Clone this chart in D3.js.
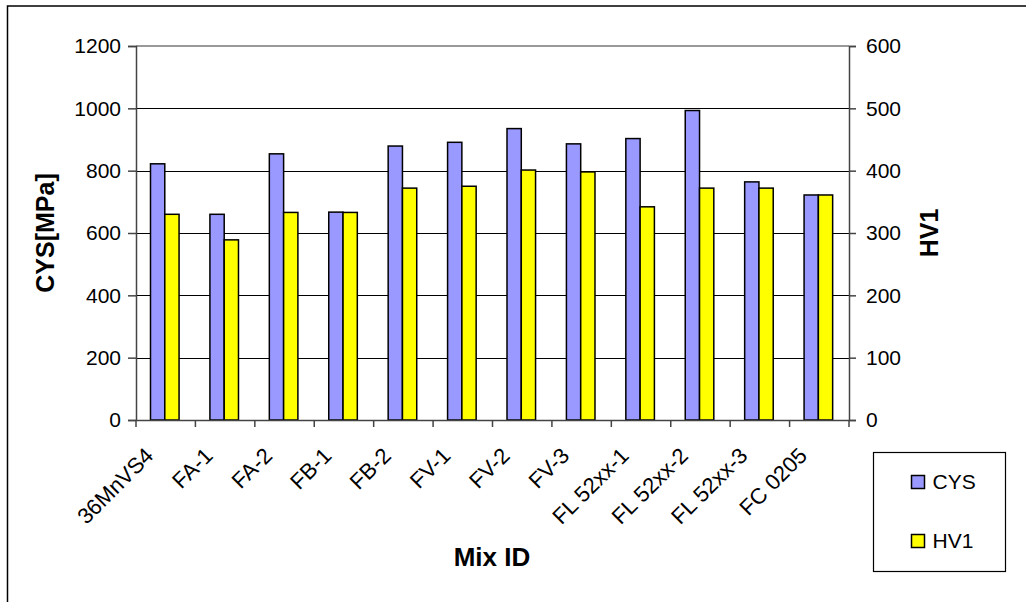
<!DOCTYPE html>
<html>
<head>
<meta charset="utf-8">
<script src="https://cdn.jsdelivr.net/npm/d3@7/dist/d3.min.js"></script>
<style>
  html, body { margin: 0; padding: 0; background: #fff; }
  svg { display: block; font-family: Arial, "Liberation Sans", sans-serif; }
</style>
</head>
<body>
<svg id="chart" width="1026" height="602"></svg>
<script>
// Mix designations along the category axis
const categories = ["36MnVS4", "FA-1", "FA-2", "FB-1", "FB-2", "FV-1", "FV-2", "FV-3",
                    "FL 52xx-1", "FL 52xx-2", "FL 52xx-3", "FC 0205"];
// Compressive yield strength, MPa (left axis)
const cysValues = [822, 660, 854, 667, 879, 891, 935, 886, 903, 993, 764, 722];
// Hardness HV1 (right axis)
const hv1Values = [330, 289, 333, 333, 372, 375, 401, 398, 342, 372, 372, 361];
const seriesNames = ["CYS", "HV1"];
const leftTicks = [0, 200, 400, 600, 800, 1000, 1200];
const rightTicks = [0, 100, 200, 300, 400, 500, 600];

const svg = d3.select("#chart");
const plot = { left: 136, right: 849, top: 46, bottom: 420 };
const colors = { CYS: "#9999ff", HV1: "#ffff00" };

// Outer chart frame
svg.append("rect")
  .attr("x", 7.5).attr("y", 6).attr("width", 1040).attr("height", 620)
  .attr("fill", "none").attr("stroke", "#000").attr("stroke-width", 1.5);

const x0 = d3.scaleBand().domain(categories).range([plot.left, plot.right]).padding(0);
const x1 = d3.scaleBand().domain(seriesNames).range([0, x0.bandwidth()])
  .paddingInner(0).paddingOuter(1.08).align(0.47);
const yL = d3.scaleLinear().domain([0, 1200]).range([plot.bottom, plot.top]);
const yR = d3.scaleLinear().domain([0, 600]).range([plot.bottom, plot.top]);

// Horizontal gridlines
svg.append("g").selectAll("line")
  .data(leftTicks.filter(t => t > 0 && t < 1200))
  .join("line")
  .attr("x1", plot.left).attr("x2", plot.right)
  .attr("y1", d => Math.round(yL(d)) + 0.5).attr("y2", d => Math.round(yL(d)) + 0.5)
  .attr("stroke", "#000").attr("stroke-width", 1);
// Plot area top edge
svg.append("line")
  .attr("x1", plot.left).attr("x2", plot.right)
  .attr("y1", yL(1200)).attr("y2", yL(1200))
  .attr("stroke", "#999").attr("stroke-width", 2);

// Bars
const rows = categories.map((c, i) => ({ cat: c, CYS: cysValues[i], HV1: hv1Values[i] }));
const groups = svg.append("g").selectAll("g")
  .data(rows).join("g")
  .attr("transform", d => `translate(${x0(d.cat)},0)`);
groups.selectAll("rect")
  .data(d => seriesNames.map(s => ({ s, v: d[s] })))
  .join("rect")
  .attr("x", d => x1(d.s))
  .attr("width", x1.bandwidth())
  .attr("y", d => d.s === "CYS" ? yL(d.v) : yR(d.v))
  .attr("height", d => plot.bottom - (d.s === "CYS" ? yL(d.v) : yR(d.v)))
  .attr("fill", d => colors[d.s])
  .attr("stroke", "#000").attr("stroke-width", 1.5);

// Left axis
const leftAxis = d3.axisLeft(yL).tickValues(leftTicks).tickFormat(d3.format("d"))
  .tickSize(8).tickPadding(7);
const gL = svg.append("g").attr("transform", `translate(${plot.left},0)`).call(leftAxis);
// Right axis
const rightAxis = d3.axisRight(yR).tickValues(rightTicks).tickFormat(d3.format("d"))
  .tickSize(7).tickPadding(10);
const gR = svg.append("g").attr("transform", `translate(${plot.right},0)`).call(rightAxis);
// Bottom axis
const bottomAxis = d3.axisBottom(x0).tickSize(0).tickFormat("");
const gB = svg.append("g").attr("transform", `translate(0,${plot.bottom})`).call(bottomAxis);
// Category boundary tick marks
svg.append("g").selectAll("line")
  .data(categories.map(c => x0(c)).concat([plot.right]))
  .join("line")
  .attr("x1", d => d).attr("x2", d => d)
  .attr("y1", plot.bottom).attr("y2", plot.bottom + 7)
  .attr("stroke", "#444").attr("stroke-width", 1.5);

[gL, gR, gB].forEach(g => {
  g.select(".domain").attr("stroke", "#444").attr("stroke-width", 1.5);
  g.selectAll(".tick line").attr("stroke", "#444").attr("stroke-width", 1.5);
  g.selectAll("text").attr("font-size", 21).attr("fill", "#000")
    .attr("font-family", "Arial, 'Liberation Sans', sans-serif");
});

// Rotated category labels
svg.append("g").selectAll("text")
  .data(categories).join("text")
  .attr("transform", d => `translate(${x0(d) + x0.bandwidth() / 2 - 11},${plot.bottom + 37}) rotate(-45)`)
  .attr("text-anchor", "end")
  .attr("font-size", 22)
  .text(d => d);

// Axis titles
svg.append("text")
  .attr("transform", `translate(54,${(plot.top + plot.bottom) / 2}) rotate(-90)`)
  .attr("text-anchor", "middle").attr("font-weight", "bold").attr("font-size", 25)
  .text("CYS[MPa]");
svg.append("text")
  .attr("transform", `translate(938,${(plot.top + plot.bottom) / 2}) rotate(-90)`)
  .attr("text-anchor", "middle").attr("font-weight", "bold").attr("font-size", 25)
  .text("HV1");
svg.append("text")
  .attr("x", 492).attr("y", 566)
  .attr("text-anchor", "middle").attr("font-weight", "bold").attr("font-size", 26)
  .text("Mix ID");

// Legend
const legend = svg.append("g").attr("transform", "translate(873.5,452.5)");
legend.append("rect")
  .attr("width", 132).attr("height", 119)
  .attr("fill", "#fff").attr("stroke", "#000").attr("stroke-width", 1.2);
const items = legend.selectAll("g.item")
  .data(seriesNames).join("g").attr("class", "item")
  .attr("transform", (d, i) => `translate(38,${23 + i * 59})`);
items.append("rect")
  .attr("width", 13).attr("height", 13)
  .attr("fill", d => colors[d]).attr("stroke", "#000").attr("stroke-width", 1.5);
items.append("text")
  .attr("x", 21).attr("y", 13)
  .attr("font-size", 21)
  .text(d => d);
</script>
</body>
</html>
